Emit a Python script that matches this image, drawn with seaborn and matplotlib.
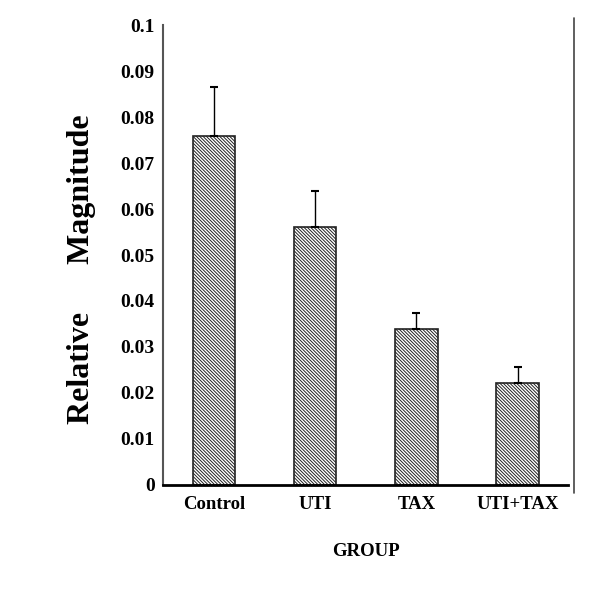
import matplotlib
matplotlib.use("Agg")
import matplotlib.pyplot as plt
import seaborn as sns
from matplotlib.lines import Line2D

# ----------- data ------------
groups = ["Control", "UTI", "TAX", "UTI+TAX"]
means = [0.0758, 0.0562, 0.0338, 0.0222]
errors = [0.0107, 0.0077, 0.0036, 0.0034]
yticks = [0, 0.01, 0.02, 0.03, 0.04, 0.05, 0.06, 0.07, 0.08, 0.09, 0.1]
ytick_labels = ["0", "0.01", "0.02", "0.03", "0.04", "0.05", "0.06", "0.07", "0.08", "0.09", "0.1"]

sns.set_style("white")
plt.rcParams["font.family"] = ["Liberation Serif", "DejaVu Serif"]
plt.rcParams["font.weight"] = "bold"
plt.rcParams["hatch.linewidth"] = 0.7
plt.rcParams["text.color"] = "black"
plt.rcParams["axes.labelcolor"] = "black"
plt.rcParams["xtick.color"] = "black"
plt.rcParams["ytick.color"] = "black"

fig = plt.figure(figsize=(6, 6), dpi=100)
ax = fig.add_axes([0.272, 0.192, 0.675, 0.766])

sns.barplot(x=groups, y=means, color="white", edgecolor="#222222",
            linewidth=1.2, width=0.42, ax=ax, errorbar=None)
for p in ax.patches:
    p.set_hatch("\\" * 10)

ax.errorbar(range(len(groups)), means, yerr=[[0] * len(groups), errors],
            fmt="none", ecolor="black", elinewidth=1, capsize=3, capthick=1.5)

ax.set_xlim(-0.5, 3.5)
ax.set_ylim(0, 0.1)
ax.set_yticks(yticks)
ax.set_yticklabels(ytick_labels, fontsize=14, fontweight="bold")
ax.set_xticks(range(len(groups)))
ax.set_xticklabels(groups, fontsize=13.5, fontweight="bold")
ax.set_xticks([0.5, 1.5, 2.5], minor=True)
ax.tick_params(axis="x", which="major", length=0, pad=8)
ax.tick_params(axis="x", which="minor", length=3, direction="out", width=1)
ax.tick_params(axis="y", length=3, direction="in", width=1.5, pad=6)

ax.set_xlabel("GROUP", fontsize=13.5, fontweight="bold", labelpad=22)
ax.set_ylabel("Relative      Magnitude", fontsize=23, fontweight="bold")
ax.yaxis.set_label_coords(-0.165, 0.47)

for side in ["top", "right"]:
    ax.spines[side].set_visible(False)
ax.spines["left"].set_color("#555555")
ax.spines["left"].set_linewidth(1.5)
ax.spines["bottom"].set_color("black")
ax.spines["bottom"].set_linewidth(2)

# thin frame line at right
fig.add_artist(Line2D([0.957, 0.957], [0.178, 0.97], color="#444444", lw=1.2))

fig.savefig("out.png", dpi=100, facecolor="white")
